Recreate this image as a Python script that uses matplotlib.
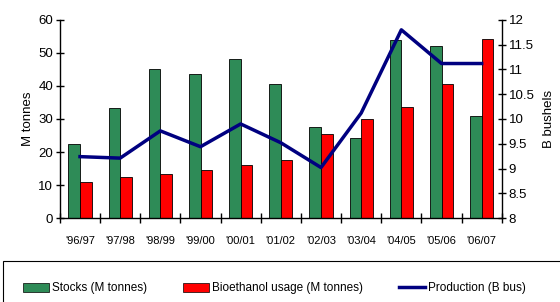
import matplotlib.pyplot as plt
import matplotlib.patches as patches
from matplotlib.lines import Line2D
import numpy as np

plt.rcParams['font.family'] = ['Liberation Sans', 'DejaVu Sans']

seasons = ["'96/97", "'97/98", "'98/99", "'99/00", "'00/01", "'01/02",
           "'02/03", "'03/04", "'04/05", "'05/06", "'06/07"]
stocks = [22.4, 33.2, 45.2, 43.5, 48.3, 40.5, 27.6, 24.1, 53.9, 52.1, 31.0]
bioethanol = [10.9, 12.5, 13.4, 14.6, 16.0, 17.6, 25.5, 29.9, 33.6, 40.5, 54.2]
production = [9.24, 9.21, 9.76, 9.44, 9.90, 9.52, 9.02, 10.12, 11.80, 11.12, 11.12]

GREEN = '#2e8b57'
RED = '#ff0000'
NAVY = '#000080'

fig = plt.figure(figsize=(5.6, 3.02), dpi=100)
fig.patch.set_facecolor('white')
ax = fig.add_axes([0.107, 0.278, 0.789, 0.656])
x = np.arange(len(seasons))
w = 0.29

ax.bar(x - w / 2, stocks, w, color=GREEN, edgecolor='black', linewidth=0.6)
ax.bar(x + w / 2, bioethanol, w, color=RED, edgecolor='black', linewidth=0.6)
ax.set_xlim(-0.5, len(seasons) - 0.5)
ax.set_ylim(0, 60)
ax.set_yticks(range(0, 61, 10))
ax.set_ylabel('M tonnes', fontsize=9.5, labelpad=3)

# tick marks on the category boundaries, labels centred under each group
ax.set_xticks(np.arange(-0.5, len(seasons), 1.0))
ax.set_xticklabels([])
ax.set_xticks(x, minor=True)
ax.set_xticklabels(seasons, minor=True, fontsize=8)
ax.tick_params(axis='x', which='major', direction='inout', length=7, width=1)
ax.tick_params(axis='x', which='minor', length=0, pad=13)
ax.tick_params(axis='y', direction='inout', length=6, width=1, labelsize=9.5, pad=2)

ax.spines['top'].set_visible(False)
ax.spines['right'].set_visible(False)
ax.spines['left'].set_linewidth(1)
ax.spines['bottom'].set_linewidth(1)

ax2 = ax.twinx()
ax2.plot(x, production, color=NAVY, lw=2.5)
ax2.set_ylim(8, 12)
ax2.set_yticks(np.arange(8, 12.01, 0.5))
ax2.set_yticklabels(['8', '8.5', '9', '9.5', '10', '10.5', '11', '11.5', '12'])
ax2.tick_params(axis='y', direction='inout', length=6, width=1, labelsize=9.5, pad=2)
ax2.set_ylabel('B bushels', fontsize=9.5, rotation=90, labelpad=6)
for s in ['top', 'left', 'bottom']:
    ax2.spines[s].set_visible(False)
ax2.spines['right'].set_linewidth(1)

# legend box along the bottom
fig.patches.append(patches.Rectangle((0.005, -0.02), 1.0, 0.155, transform=fig.transFigure,
                                     fill=False, edgecolor='black', linewidth=0.8))
handles = [patches.Patch(facecolor=GREEN, edgecolor='black', linewidth=0.5),
           patches.Patch(facecolor=RED, edgecolor='black', linewidth=0.5),
           Line2D([], [], color=NAVY, lw=2.5)]
labels = ['Stocks (M tonnes)', 'Bioethanol usage (M tonnes)', 'Production (B bus)']
fig.legend(handles, labels, loc='center', bbox_to_anchor=(0.49, 0.045), ncol=3,
           frameon=False, fontsize=8.5, columnspacing=3.0, handlelength=2.2,
           handleheight=0.8, handletextpad=0.3)

fig.savefig('out.png', dpi=100, facecolor='white')
